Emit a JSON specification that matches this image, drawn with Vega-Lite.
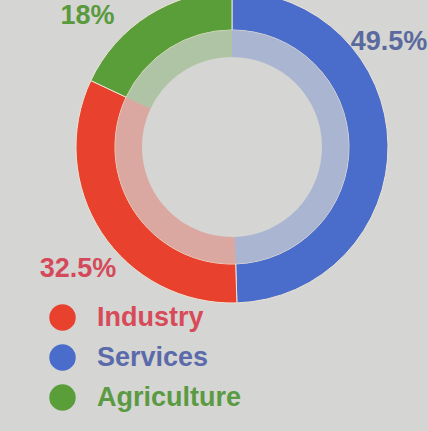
{
  "$schema": "https://vega.github.io/schema/vega-lite/v6.json",
  "autosize": "none",
  "width": 392,
  "height": 294,
  "padding": {"left": 36, "top": 0, "right": 0, "bottom": 137},
  "background": "#d5d5d3",
  "config": {"view": {"stroke": null}, "font": "Liberation Sans"},
  "data": {
    "values": [
      {"sector": "Services", "share": 49.5, "rank": 1, "label": "49.5%"},
      {"sector": "Industry", "share": 32.5, "rank": 2, "label": "32.5%"},
      {"sector": "Agriculture", "share": 18, "rank": 3, "label": "18%"}
    ]
  },
  "encoding": {
    "theta": {"field": "share", "type": "quantitative", "stack": true},
    "order": {"field": "rank", "type": "quantitative"}
  },
  "layer": [
    {
      "mark": {"type": "arc", "radius": 156, "radius2": 117, "stroke": "#ece4d4", "strokeWidth": 1},
      "encoding": {
        "color": {
          "field": "sector",
          "type": "nominal",
          "scale": {"domain": ["Industry", "Services", "Agriculture"], "range": ["#e8422f", "#4a6dcc", "#5a9e3a"]},
          "legend": {
            "title": null,
            "orient": "none",
            "legendX": 13,
            "legendY": 304,
            "symbolType": "circle",
            "symbolSize": 700,
            "symbolStrokeWidth": 0,
            "labelFont": "Liberation Sans",
            "labelFontSize": 27,
            "labelFontWeight": "bold",
            "labelOffset": 21,
            "rowPadding": 12,
            "labelLimit": 400,
            "labelColor": {"expr": "datum.value === 'Industry' ? '#d84a58' : datum.value === 'Services' ? '#5a6aaa' : '#5a9a42'"}
          }
        }
      }
    },
    {
      "mark": {"type": "arc", "radius": 117, "radius2": 90, "opacity": 0.3},
      "encoding": {"color": {"field": "sector", "type": "nominal"}}
    },
    {
      "mark": {"type": "text", "radius": 165, "dx": -8, "dy": -102, "fontSize": 27, "fontWeight": "bold", "color": "#5a6a9e"},
      "encoding": {"text": {"condition": {"test": "datum.sector === 'Services'", "field": "label"}, "value": ""}}
    },
    {
      "mark": {"type": "text", "radius": 165, "dx": -16, "dy": 31, "fontSize": 27, "fontWeight": "bold", "color": "#d44a5a"},
      "encoding": {"text": {"condition": {"test": "datum.sector === 'Industry'", "field": "label"}, "value": ""}}
    },
    {
      "mark": {"type": "text", "radius": 165, "dx": -56, "dy": 8, "fontSize": 27, "fontWeight": "bold", "color": "#5a9a3e"},
      "encoding": {"text": {"condition": {"test": "datum.sector === 'Agriculture'", "field": "label"}, "value": ""}}
    }
  ]
}
